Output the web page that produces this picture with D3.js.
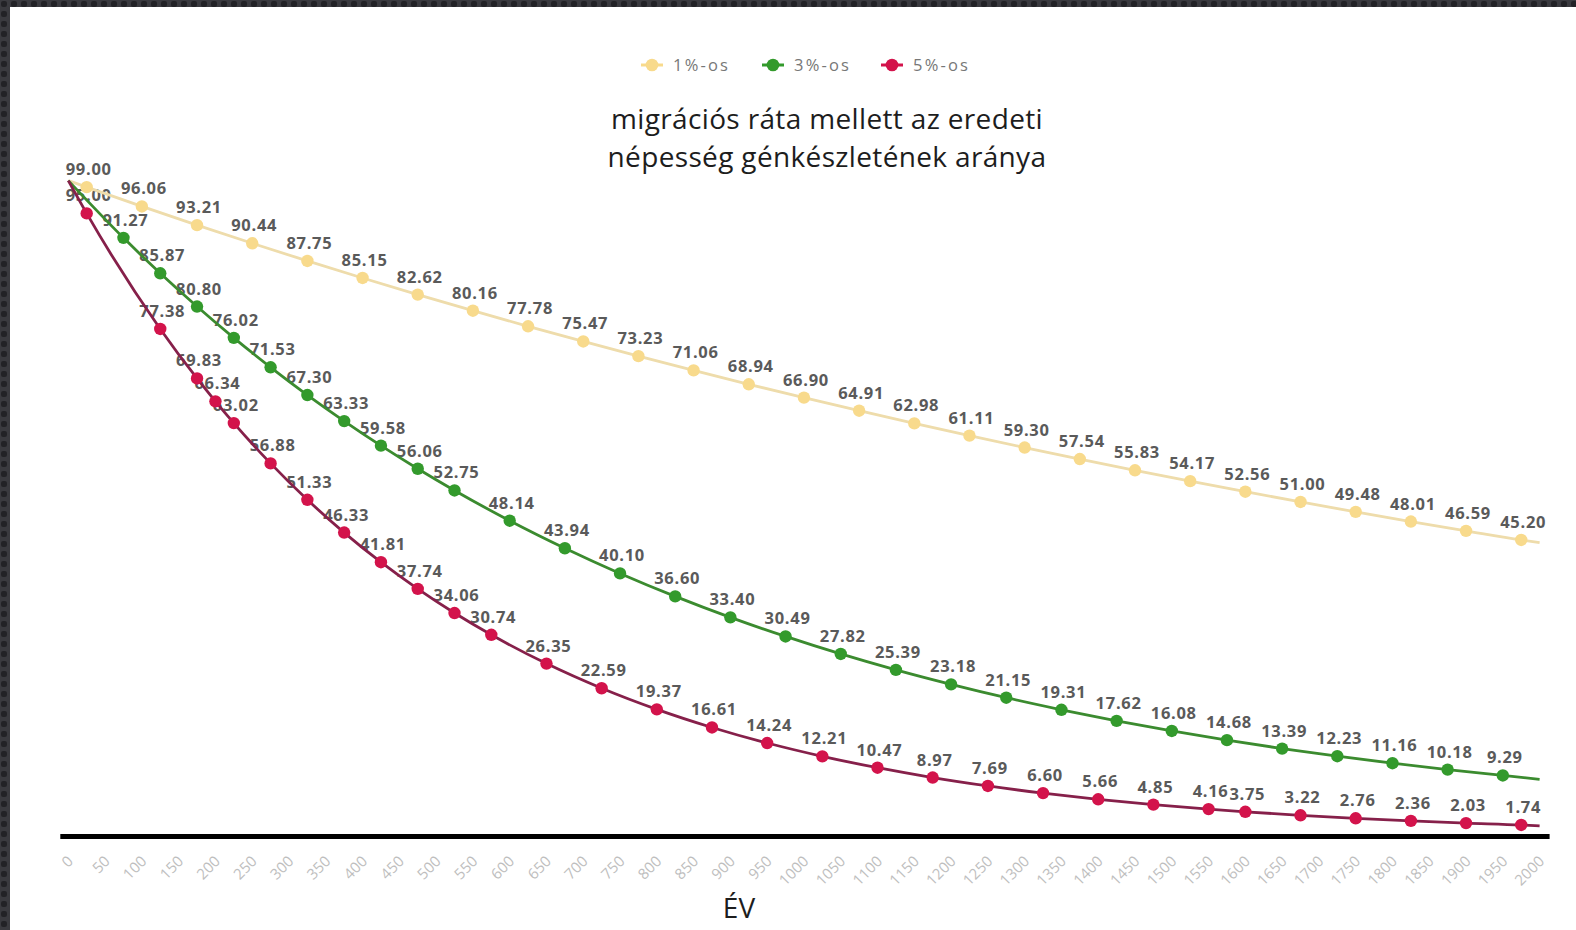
<!DOCTYPE html>
<html>
<head>
<meta charset="utf-8">
<script src="https://cdn.jsdelivr.net/npm/d3@7"></script>
<style>
  html, body { margin: 0; padding: 0; background: #fff; }
  svg { display: block; }
</style>
</head>
<body>
<svg id="chart" width="1576" height="930"></svg>
<script>
// Share of the original population's gene pool over the years (generation = 25 years)
const seriesNames = ["1%-os", "3%-os", "5%-os"];

// 1% migration rate
const years1 = [25, 100, 175, 250, 325, 400, 475, 550, 625, 700, 775, 850, 925, 1000,
  1075, 1150, 1225, 1300, 1375, 1450, 1525, 1600, 1675, 1750, 1825, 1900, 1975];
const values1 = [99.00, 96.06, 93.21, 90.44, 87.75, 85.15, 82.62, 80.16, 77.78, 75.47,
  73.23, 71.06, 68.94, 66.90, 64.91, 62.98, 61.11, 59.30, 57.54, 55.83, 54.17, 52.56,
  51.00, 49.48, 48.01, 46.59, 45.20];

// 3% migration rate
const years3 = [75, 125, 175, 225, 275, 325, 375, 425, 475, 525, 600, 675, 750, 825, 900,
  975, 1050, 1125, 1200, 1275, 1350, 1425, 1500, 1575, 1650, 1725, 1800, 1875, 1950];
const values3 = [91.27, 85.87, 80.80, 76.02, 71.53, 67.30, 63.33, 59.58, 56.06, 52.75,
  48.14, 43.94, 40.10, 36.60, 33.40, 30.49, 27.82, 25.39, 23.18, 21.15, 19.31, 17.62,
  16.08, 14.68, 13.39, 12.23, 11.16, 10.18, 9.29];

// 5% migration rate
const years5 = [25, 125, 175, 200, 225, 275, 325, 375, 425, 475, 525, 575, 650, 725, 800,
  875, 950, 1025, 1100, 1175, 1250, 1325, 1400, 1475, 1550, 1600, 1675, 1750, 1825, 1900, 1975];
const values5 = [95.00, 77.38, 69.83, 66.34, 63.02, 56.88, 51.33, 46.33, 41.81, 37.74,
  34.06, 30.74, 26.35, 22.59, 19.37, 16.61, 14.24, 12.21, 10.47, 8.97, 7.69, 6.60, 5.66,
  4.85, 4.16, 3.75, 3.22, 2.76, 2.36, 2.03, 1.74];

// line endpoints: every curve starts from the full (100%) gene pool at year 0
const startYear = 0, startValue = 100;
const endYear = 2000;
const endValues = [44.8, 8.7, 1.6];

// x-axis tick labels
const xTicks = d3.range(0, 2001, 50);

const titleLines = ["migrációs ráta mellett az eredeti", "népesség génkészletének aránya"];
const axisTitle = "ÉV";

const markerColors = ["#f8da8c", "#339a2c", "#d3134b"];
const lineColors = ["#eedcab", "#3b8b2f", "#86204a"];

const series = [
  { years: years1, values: values1 },
  { years: years3, values: values3 },
  { years: years5, values: values5 }
].map((s, i) => ({
  name: seriesNames[i],
  marker: markerColors[i],
  line: lineColors[i],
  points: s.years.map((y, j) => ({ year: y, value: s.values[j] })),
  linePoints: [{ year: startYear, value: startValue }]
    .concat(s.years.map((y, j) => ({ year: y, value: s.values[j] })))
    .concat([{ year: endYear, value: endValues[i] }])
}));

const svg = d3.select("#chart");
const W = 1576, H = 930;

svg.append("rect").attr("width", W).attr("height", H).attr("fill", "#ffffff");

// dark window edge along top and left
const defs = svg.append("defs");
const pat = defs.append("pattern").attr("id", "edge").attr("width", 10).attr("height", 10)
  .attr("patternUnits", "userSpaceOnUse");
pat.append("rect").attr("width", 10).attr("height", 10).attr("fill", "#3a3a3f");
pat.append("rect").attr("x", 1).attr("y", 1).attr("width", 6).attr("height", 6).attr("rx", 2)
  .attr("fill", "#222226");
svg.append("rect").attr("x", 0).attr("y", 0).attr("width", W).attr("height", 7).attr("fill", "url(#edge)");
svg.append("rect").attr("x", 0).attr("y", 0).attr("width", 10).attr("height", H).attr("fill", "url(#edge)");

const x = d3.scaleLinear().domain([0, 2000]).range([68.3, 1539.6]);
const y = d3.scaleLinear().domain([0, 100]).range([836.4, 180.6]);

// legend
const legendX = [652, 773, 892];
const legend = svg.append("g").attr("class", "legend");
series.forEach((s, i) => {
  const g = legend.append("g").attr("transform", `translate(${legendX[i]},65)`);
  g.append("line").attr("x1", -11).attr("x2", 11).attr("stroke", s.marker).attr("stroke-width", 3);
  g.append("circle").attr("r", 6.3).attr("fill", s.marker);
  g.append("text").attr("x", 21).attr("dy", "0.35em")
    .attr("font-family", "Open Sans, sans-serif").attr("font-size", 16.5)
    .attr("letter-spacing", 2.2)
    .attr("fill", "#777").text(s.name);
});

// title
svg.append("g").selectAll("text").data(titleLines).join("text")
  .attr("x", 827).attr("y", (d, i) => 129 + i * 38)
  .attr("text-anchor", "middle")
  .attr("font-family", "Open Sans, sans-serif").attr("font-size", 28)
  .attr("letter-spacing", 0.35)
  .attr("fill", "#1d1d1d").text(d => d);

// x axis labels
const xAxis = d3.axisBottom(x).tickValues(xTicks).tickSize(0).tickFormat(d3.format("d"));
const ax = svg.append("g").attr("transform", "translate(0,859)").call(xAxis);
ax.select(".domain").remove();
ax.selectAll("text")
  .attr("x", 0).attr("y", 0).attr("dy", "0.3em")
  .attr("transform", "translate(2,0) rotate(-45)")
  .attr("text-anchor", "end")
  .attr("font-family", "Open Sans, sans-serif").attr("font-size", 15)
  .attr("fill", "#bebebe");

// axis title
svg.append("text").attr("x", 739).attr("y", 918).attr("text-anchor", "middle")
  .attr("font-family", "Open Sans, sans-serif").attr("font-size", 28)
  .attr("fill", "#1d1d1d").text(axisTitle);

// baseline
svg.append("line").attr("x1", x(0) - 8).attr("x2", x(2000) + 10)
  .attr("y1", y(0)).attr("y2", y(0)).attr("stroke", "#000").attr("stroke-width", 5);

// value labels (under the lines and markers)
const labels = svg.append("g");
series.forEach(s => {
  labels.append("g").selectAll("text").data(s.points).join("text")
    .attr("x", d => x(d.year) + 2).attr("y", d => y(d.value) - 12)
    .attr("text-anchor", "middle")
    .attr("font-family", "Open Sans, sans-serif").attr("font-size", 16.5)
    .attr("font-weight", 700).attr("letter-spacing", 0.7)
    .attr("fill", "#5a5a5a")
    .text(d => d.value.toFixed(2));
});

// lines
const line = d3.line().x(d => x(d.year)).y(d => y(d.value)).curve(d3.curveMonotoneX);
series.forEach(s => {
  svg.append("path").datum(s.linePoints).attr("d", line)
    .attr("fill", "none").attr("stroke", s.line).attr("stroke-width", 2.8);
});

// markers
series.forEach(s => {
  svg.append("g").selectAll("circle").data(s.points).join("circle")
    .attr("cx", d => x(d.year)).attr("cy", d => y(d.value)).attr("r", 6.2)
    .attr("fill", s.marker);
});
</script>
</body>
</html>
